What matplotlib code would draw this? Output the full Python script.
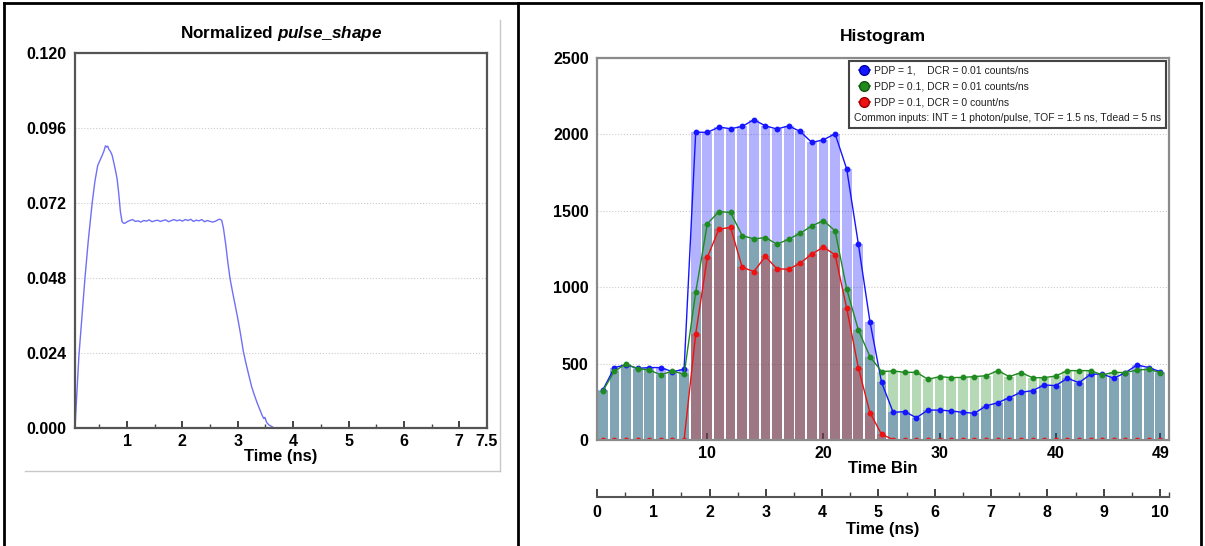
import numpy as np
import matplotlib
matplotlib.use("Agg")
import matplotlib.pyplot as plt
from matplotlib.lines import Line2D
from matplotlib.legend_handler import HandlerLine2D
from matplotlib.ticker import FixedLocator, MultipleLocator

plt.rcParams['font.family'] = ['Liberation Sans', 'DejaVu Sans']
plt.rcParams['mathtext.fontset'] = 'custom'
plt.rcParams['mathtext.it'] = 'Liberation Sans:italic:bold'
plt.rcParams['mathtext.rm'] = 'Liberation Sans:bold'

W, H = 1205, 546

# ---- left panel: normalized pulse shape ----
pulse_t = [0.06, 0.13, 0.24, 0.30, 0.37, 0.42, 0.47, 0.52, 0.55, 0.58,
           0.61, 0.63, 0.65, 0.67, 0.70, 0.73, 0.76, 0.79, 0.82, 0.85,
           0.88, 0.91, 0.94, 0.97,
           1.00, 1.05, 1.10, 1.15, 1.20, 1.25, 1.30, 1.35, 1.40, 1.45,
           1.50, 1.55, 1.60, 1.65, 1.70, 1.75, 1.80, 1.85, 1.90, 1.95,
           2.00, 2.05, 2.10, 2.15, 2.20, 2.25, 2.30, 2.35, 2.40, 2.45,
           2.50, 2.55, 2.60, 2.65, 2.68,
           2.71, 2.74, 2.78, 2.82, 2.86, 2.90, 2.95, 3.00, 3.05, 3.10,
           3.15, 3.20, 3.25, 3.30, 3.35, 3.40, 3.44, 3.47, 3.49, 3.52,
           3.56, 3.60, 3.63]
pulse_v = [0.0000, 0.0230, 0.0480, 0.0600, 0.0720, 0.0790, 0.0840, 0.0860, 0.0872, 0.0885,
           0.0903, 0.0899, 0.0902, 0.0892, 0.0885, 0.0873, 0.0850, 0.0825, 0.0798, 0.0750,
           0.0692, 0.0660, 0.0655, 0.0656,
           0.0660, 0.0664, 0.0667, 0.0661, 0.0663, 0.0659, 0.0664, 0.0662, 0.0666, 0.0660,
           0.0663, 0.0665, 0.0661, 0.0664, 0.0666, 0.0660, 0.0664, 0.0667, 0.0663, 0.0666,
           0.0662, 0.0667, 0.0664, 0.0668, 0.0661, 0.0665, 0.0663, 0.0667, 0.0660, 0.0664,
           0.0661, 0.0659, 0.0662, 0.0667, 0.0668,
           0.0664, 0.0640, 0.0590, 0.0530, 0.0478, 0.0440, 0.0395, 0.0350, 0.0300, 0.0245,
           0.0205, 0.0168, 0.0132, 0.0105, 0.0080, 0.0058, 0.0040, 0.0030, 0.0034, 0.0018,
           0.0010, 0.0006, 0.0003]
pulse_yticks = [0.000, 0.024, 0.048, 0.072, 0.096, 0.120]
pulse_xticks = [1, 2, 3, 4, 5, 6, 7, 7.5]

# ---- right panel: histogram counts per time bin ----
time_bins = [1, 2, 3, 4, 5, 6, 7, 8, 9, 10, 11, 12, 13, 14, 15, 16, 17, 18, 19, 20,
             21, 22, 23, 24, 25, 26, 27, 28, 29, 30, 31, 32, 33, 34, 35, 36, 37, 38, 39, 40,
             41, 42, 43, 44, 45, 46, 47, 48, 49]
counts_pdp1 = [327, 474, 492, 469, 474, 474, 447, 463,
               2015, 2013, 2048, 2037, 2052, 2096, 2056, 2035, 2056, 2019, 1947, 1965, 2004,
               1773, 1284, 775, 378,
               181, 186, 146, 196, 196, 190, 181, 175, 223, 244, 277, 312, 323, 360, 356,
               404, 375, 430, 432, 404, 441, 491, 474, 447]
counts_pdp01 = [320, 451, 497, 467, 458, 426, 452, 430,
                967, 1415, 1495, 1489, 1338, 1316, 1325, 1281, 1314, 1353, 1401, 1436, 1369,
                989, 720, 546, 448,
                452, 443, 443, 397, 415, 408, 410, 415, 421, 454, 415, 441, 408, 408, 419,
                454, 454, 454, 426, 443, 441, 458, 463, 441]
counts_pdp01_nodcr = [0, 0, 0, 0, 0, 0, 0, 0,
                      694, 1196, 1380, 1391, 1131, 1102, 1201, 1120, 1118, 1157, 1218, 1262, 1212,
                      862, 474, 179, 37,
                      3, 0, 0, 0, 0, 0, 0, 0, 0, 0, 0, 0, 0, 0, 0,
                      0, 0, 0, 0, 0, 0, 0, 0, 0]
series_labels = ["PDP = 1,    DCR = 0.01 counts/ns",
                 "PDP = 0.1, DCR = 0.01 counts/ns",
                 "PDP = 0.1, DCR = 0 count/ns"]
common_label = "Common inputs: INT = 1 photon/pulse, TOF = 1.5 ns, Tdead = 5 ns"
bin_ticks = [10, 20, 30, 40, 49]
ns_ticks = [0, 1, 2, 3, 4, 5, 6, 7, 8, 9, 10]


def px(x0, y0, x1, y1):
    return [x0 / W, 1 - y1 / H, (x1 - x0) / W, (y1 - y0) / H]


class MarkerLeft(HandlerLine2D):
    # marker at the left end of the handle, line running to the right
    def get_xdata(self, legend, xdescent, ydescent, width, height, fontsize):
        x0 = -xdescent + 0.3 * width
        return np.array([x0, -xdescent + width]), np.array([x0])


def style_axes(ax, spine_color):
    for s in ax.spines.values():
        s.set_color(spine_color)
        s.set_linewidth(1.6)
    ax.grid(axis='y', color='#cccccc', linestyle=':', linewidth=0.8)
    ax.set_axisbelow(True)
    ax.tick_params(axis='y', length=0, labelsize=11.5, pad=6)
    ax.tick_params(axis='x', which='major', direction='in', length=5, width=1.2,
                   color='#222222', labelsize=11.5, pad=4)
    ax.tick_params(axis='x', which='minor', direction='in', length=3, width=1,
                   color='#444444')
    for lab in ax.get_xticklabels() + ax.get_yticklabels():
        lab.set_fontweight('bold')


fig = plt.figure(figsize=(W / 100, H / 100), dpi=100)

# ---- left: pulse shape ----
ax1 = fig.add_axes(px(75, 53, 487, 428))
ax1.plot(pulse_t, pulse_v, color='#6f6ff7', linewidth=1.0)
ax1.set_xlim(0.06, 7.5)
ax1.set_ylim(0, 0.12)
ax1.set_yticks(pulse_yticks)
ax1.set_yticklabels(["%.3f" % v for v in pulse_yticks])
ax1.set_xticks(pulse_xticks)
ax1.set_xticklabels(["1", "2", "3", "4", "5", "6", "7", "7.5"])
ax1.xaxis.set_minor_locator(MultipleLocator(0.5))
style_axes(ax1, '#555555')
ax1.set_xlabel("Time (ns)", fontsize=12, fontweight='bold', labelpad=0)
ax1.set_title(r"Normalized $\mathit{pulse\_shape}$", fontsize=12.3, fontweight='bold', pad=11)

# ---- right: histogram ----
ax2 = fig.add_axes(px(597, 58, 1169, 440))
bw = 0.84
ax2.bar(time_bins, counts_pdp1, width=bw, color=(0.0, 0.0, 1.0, 0.30), linewidth=0)
ax2.bar(time_bins, counts_pdp01, width=bw, color=(0.13, 0.55, 0.13, 0.33), linewidth=0)
ax2.bar(time_bins, counts_pdp01_nodcr, width=bw, color=(0.85, 0.1, 0.15, 0.33), linewidth=0)
ax2.plot(time_bins, counts_pdp1, '-o', color='#1515ff', markersize=3.2, linewidth=1.0)
ax2.plot(time_bins, counts_pdp01, '-o', color='#1f8a1f', markersize=3.2, linewidth=1.0)
ax2.plot(time_bins, counts_pdp01_nodcr, '-o', color='#ee1111', markersize=3.2, linewidth=1.0)
ax2.set_xlim(0.5, 49.75)
ax2.set_ylim(0, 2500)
ax2.set_yticks([0, 500, 1000, 1500, 2000, 2500])
ax2.set_xticks(bin_ticks)
style_axes(ax2, '#8a8a8a')
ax2.set_xlabel("Time Bin", fontsize=12, fontweight='bold', labelpad=0)
ax2.set_title("Histogram", fontsize=12.5, fontweight='bold', pad=12)

handles = [
    Line2D([], [], color='#1515ff', marker='o', markersize=7, markeredgecolor='#0000aa', linewidth=1.2),
    Line2D([], [], color='#1f8a1f', marker='o', markersize=7, markeredgecolor='#115511', linewidth=1.2),
    Line2D([], [], color='#ee1111', marker='o', markersize=7, markeredgecolor='#990000', linewidth=1.2),
    Line2D([], [], linestyle='none'),
]
leg = ax2.legend(handles, series_labels + [common_label], loc='upper right',
                 fontsize=7.5, handlelength=1.5, handletextpad=0.4, labelspacing=0.55,
                 borderaxespad=0.3, borderpad=0.45, fancybox=False, framealpha=1,
                 edgecolor='#444444', numpoints=1,
                 handler_map={Line2D: MarkerLeft()})
leg.get_frame().set_linewidth(1.5)
for t in leg.get_texts():
    t.set_color('#222222')
# last row has no marker: keep only its text
rows = [r for col in leg._legend_handle_box.get_children() for r in col.get_children()]
rows[3]._children = [rows[3]._children[1]]

# ---- secondary time axis below histogram ----
ax3 = fig.add_axes([597 / W, 1 - 497 / H, 572 / W, 0.0001])
for side in ['top', 'left', 'right']:
    ax3.spines[side].set_visible(False)
ax3.spines['bottom'].set_color('#555555')
ax3.spines['bottom'].set_linewidth(1.5)
ax3.set_yticks([])
ax3.set_xlim(0, 10.16)
ax3.set_xticks(ns_ticks)
ax3.xaxis.set_minor_locator(FixedLocator([0.5, 1.5, 2.5, 3.5, 4.5, 5.5, 6.5, 7.5, 8.5, 9.5, 10.16]))
ax3.tick_params(axis='x', which='major', direction='in', length=6, width=1.2,
                color='#222222', labelsize=11.5, pad=6)
ax3.tick_params(axis='x', which='minor', direction='in', length=3.5, width=1, color='#444444')
for lab in ax3.get_xticklabels():
    lab.set_fontweight('bold')
ax3.set_xlabel("Time (ns)", fontsize=12, fontweight='bold', labelpad=1)


# ---- page frame lines ----
def fline(xs, ys, color='k', lw=2):
    fig.add_artist(Line2D([x / W for x in xs], [1 - y / H for y in ys],
                          color=color, linewidth=lw, transform=fig.transFigure))


fline([4, 1201], [3, 3])
fline([4, 4], [3, 546])
fline([1201, 1201], [3, 546])
fline([518, 518], [3, 546])
fline([500, 500], [20, 471], color='#c8c8c8', lw=1)
fline([25, 500], [471, 471], color='#c8c8c8', lw=1)

fig.savefig("out.png", dpi=100)
